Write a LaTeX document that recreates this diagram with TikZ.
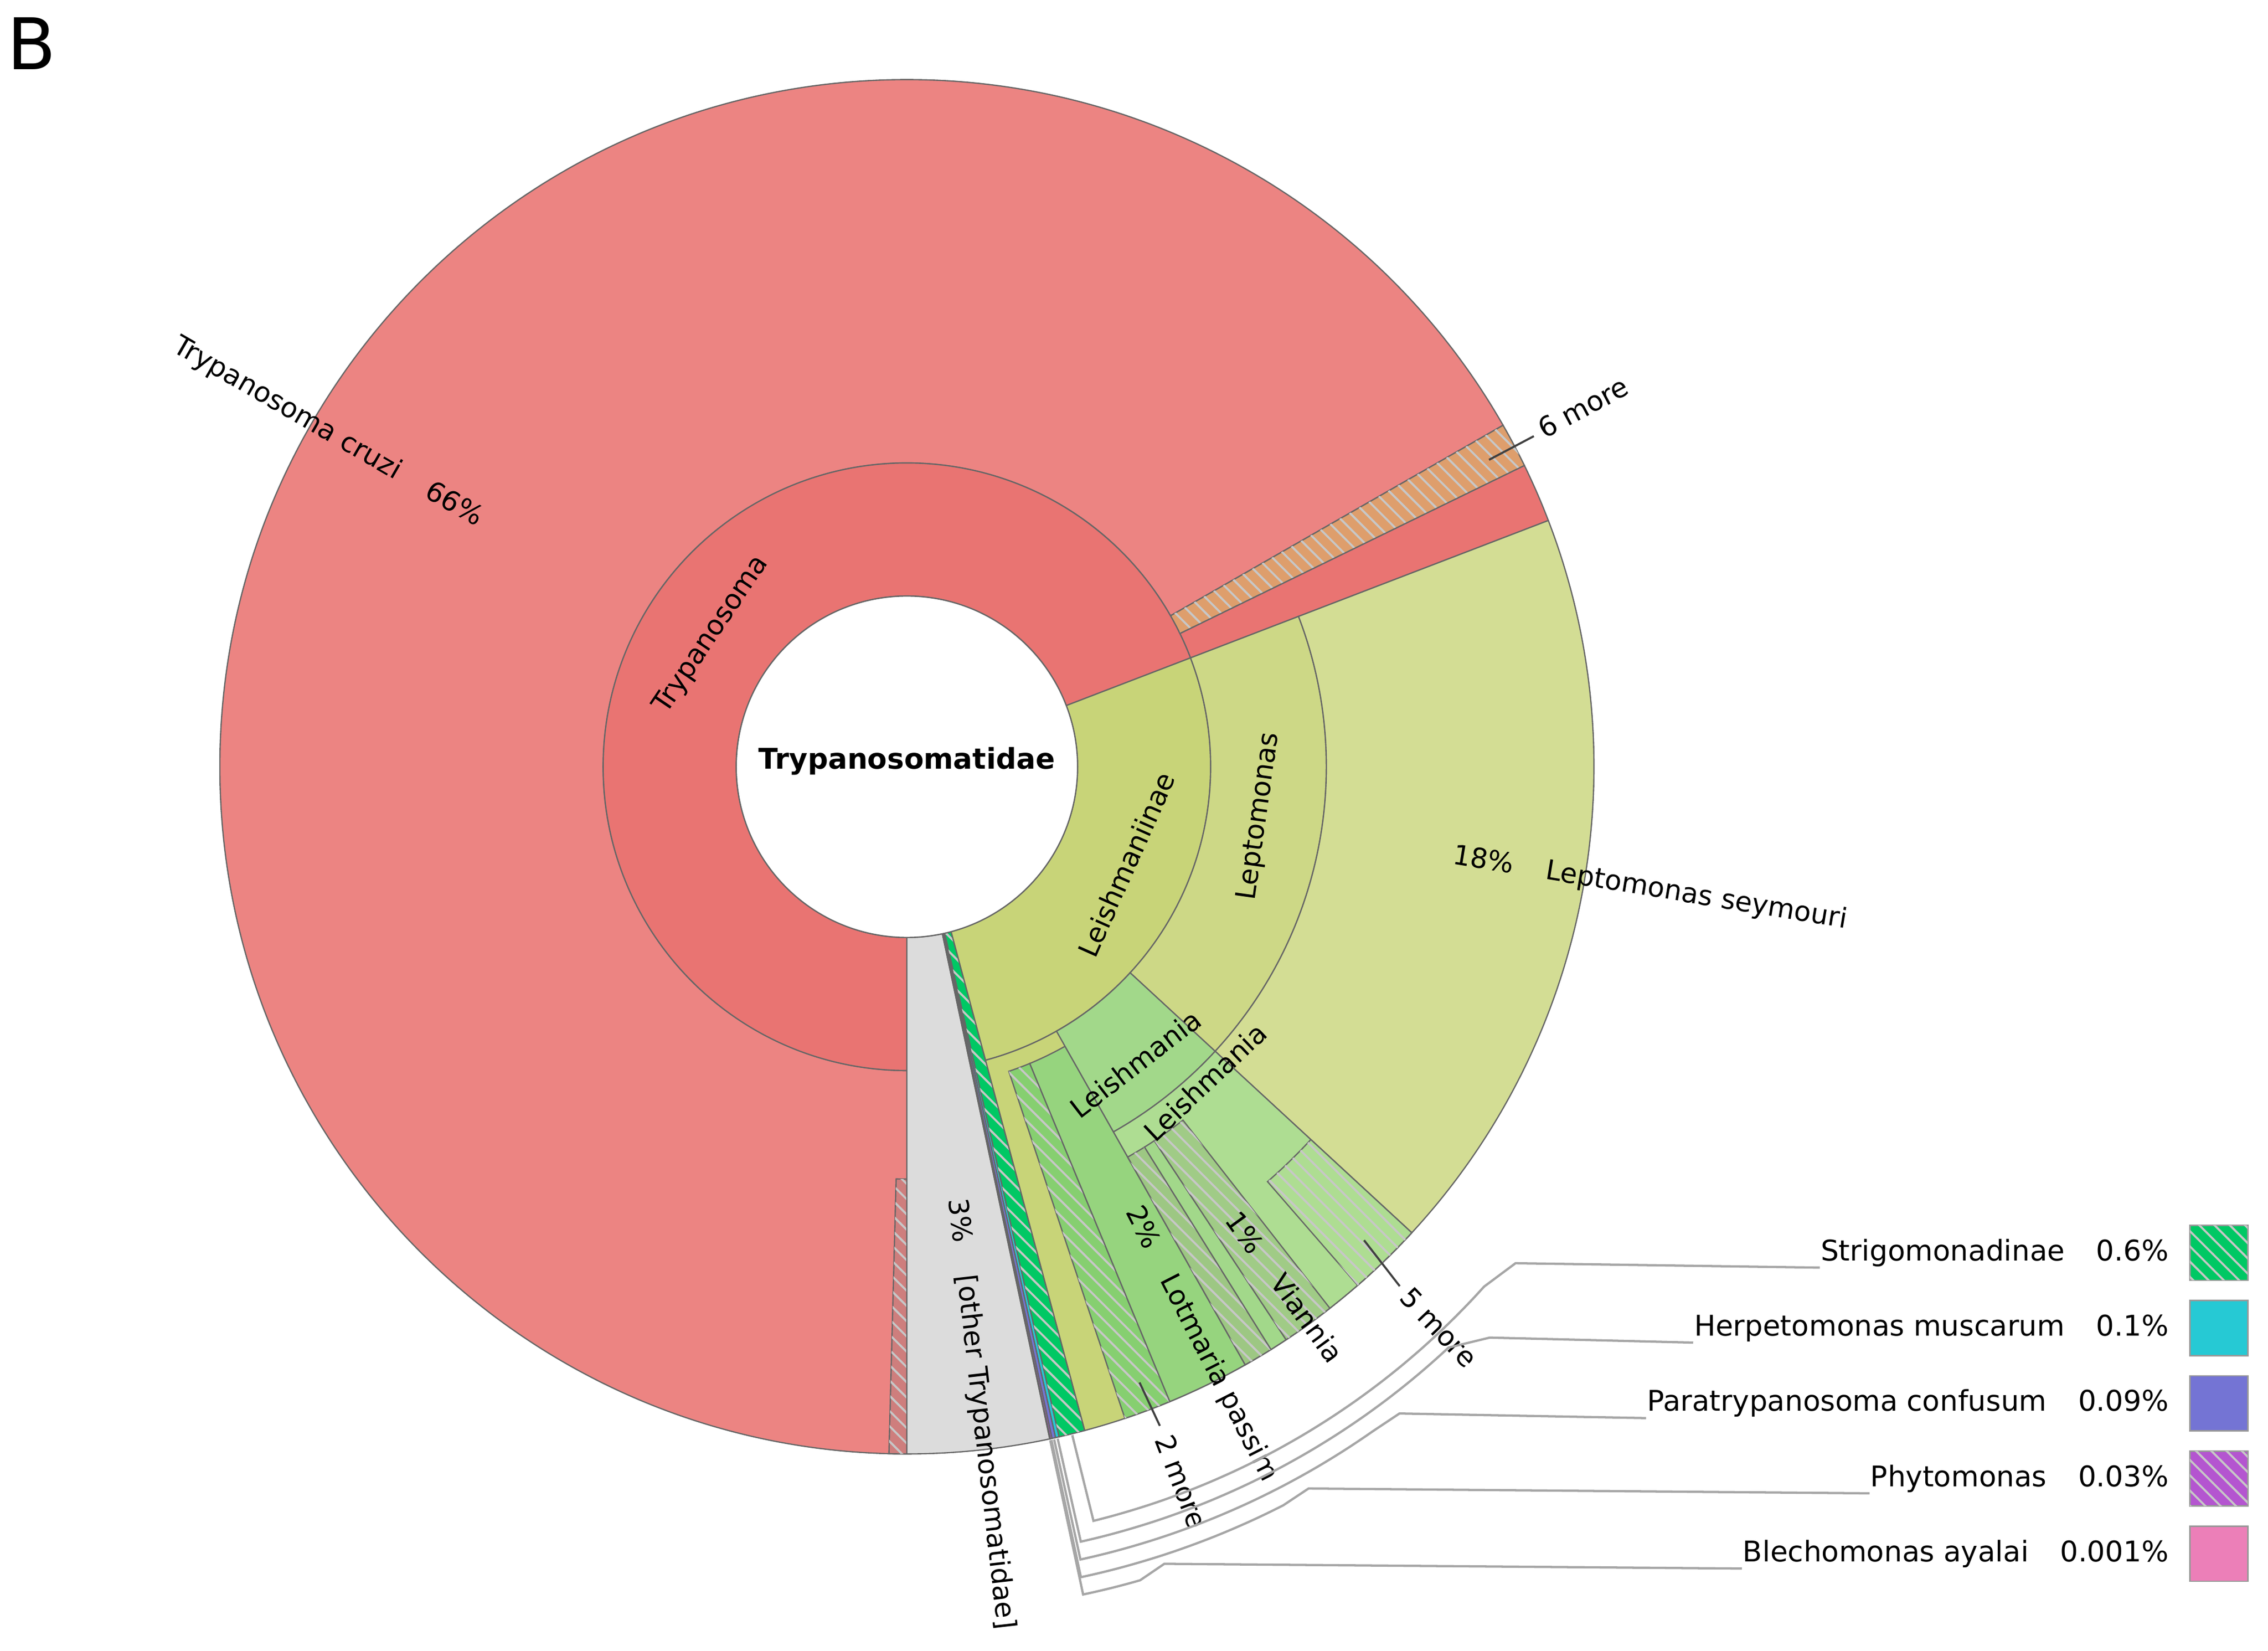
\documentclass[tikz,border=0pt]{standalone}
\usepackage{fontspec}
\setmainfont{DejaVu Sans}
\usetikzlibrary{patterns}
\definecolor{cruzi}{HTML}{EC8482}
\definecolor{tryring}{HTML}{E97472}
\definecolor{greyo}{HTML}{DCDCDC}
\definecolor{olive}{HTML}{C8D478}
\definecolor{lepto}{HTML}{CDD886}
\definecolor{seym}{HTML}{D3DD94}
\definecolor{orangeh}{HTML}{DE9E6C}
\definecolor{gdark}{HTML}{86CF70}
\definecolor{gmed}{HTML}{96D47E}
\definecolor{ggen}{HTML}{A2D88A}
\definecolor{glight}{HTML}{AEDD92}
\definecolor{strig}{HTML}{00C864}
\definecolor{herp}{HTML}{26C9D4}
\definecolor{para}{HTML}{7474D4}
\definecolor{phyto}{HTML}{B455D0}
\definecolor{blech}{HTML}{EC7FB8}
\tikzset{
  wb/.style={draw=black!60,line width=0.25pt},
  hatchy/.style={postaction={pattern=north west lines,pattern color=black!22}},
  lbl/.style={font=\fontsize{5.4}{6}\selectfont,inner sep=0pt},
  leader/.style={draw=black!35,line width=0.45pt},
  lead/.style={draw=black!75,line width=0.4pt},
}
\newcommand\wdg[5]{\path[wb,#5] (#1:#3) arc[start angle=#1,end angle=#2,radius=#3] -- (#2:#4) arc[start angle=#2,end angle=#1,radius=#4] -- cycle;}
\begin{document}
\begin{tikzpicture}[x=0.01cm,y=0.01cm]
\useasboundingbox (0,0) rectangle (1568,-1141);
\node[font=\fontsize{14}{14}\selectfont,anchor=center] (B) at (22,-30) {B};
\begin{scope}[shift={(627,-530)}]
% Trypanosoma branch
\wdg{29.8}{270}{210}{475}{fill=cruzi}
\wdg{268.5}{270}{285}{475}{fill=cruzi!85!black!90,hatchy}
\wdg{26}{29.8}{210}{475}{fill=orangeh,hatchy}
\wdg{21}{26}{210}{475}{fill=tryring}
\wdg{21}{270}{118}{210}{fill=tryring}
% other
\wdg{-90}{-78}{118}{475}{fill=greyo}
\wdg{-78}{-77.95}{118}{475}{fill=blech}
\wdg{-77.95}{-77.8}{118}{475}{fill=phyto}
\wdg{-77.8}{-77.5}{118}{475}{fill=para}
\wdg{-77.5}{-77.2}{118}{475}{fill=herp}
\wdg{-77.2}{-75}{118}{475}{fill=strig,hatchy}
% Leishmaniinae
\wdg{-75}{21}{118}{210}{fill=olive}
\wdg{-75}{-42.7}{210}{475}{fill=olive}
\wdg{-42.7}{21}{210}{290}{fill=lepto}
\wdg{-42.7}{21}{290}{475}{fill=seym}
\wdg{-71.5}{-67.5}{222}{475}{fill=gdark,hatchy}
\wdg{-67.5}{-60.5}{222}{475}{fill=gmed}
\wdg{-60.5}{-42.7}{210}{290}{fill=ggen}
\wdg{-60.5}{-42.7}{290}{475}{fill=glight}
\wdg{-60.5}{-58}{310}{475}{fill=glight!90!black,hatchy}
\wdg{-58}{-56.5}{310}{475}{fill=ggen}
\wdg{-56.5}{-52}{310}{475}{fill=glight!92!black,hatchy}
\wdg{-49}{-42.7}{380}{475}{fill=glight,hatchy}
\draw[wb,fill=white] (0,0) circle[radius=118];
% centre and ring labels
\node[font=\fontsize{5.6}{6}\selectfont\bfseries] (root) at (0,4) {Trypanosomatidae};
\node[lbl,rotate=56] (tryp) at (146:163) {Trypanosoma};
\node[lbl,rotate=66] (leishnae) at (-24:166) {Leishmaniinae};
\node[lbl,rotate=82] (leptom) at (-8:246) {Leptomonas};
\node[lbl,rotate=37.6] (leish1) at (-52.4:259) {Leishmania};
\node[lbl,rotate=43.4] (leish2) at (-46.6:300) {Leishmania};
% radial labels
\node[lbl,anchor=east,rotate=-30] (cruzilbl) at (150:340) {Trypanosoma cruzi\hspace{1.2em}66\%};
\node[lbl,anchor=west,rotate=-9.3] (seylbl) at (-9.3:382) {18\%\hspace{1.2em}Leptomonas seymouri};
\node[lbl,anchor=west,rotate=-83.5] (othlbl) at (-83.5:300) {3\%\hspace{1.2em}[other Trypanosomatidae]};
\node[lbl,anchor=west,rotate=-63] (lotlbl) at (-63:342) {2\%\hspace{1.2em}Lotmaria passim};
\node[lbl,anchor=west,rotate=-54] (vianlbl) at (-54:382) {1\%\hspace{1.2em}Viannia};
\coordinate (m6a) at (27.8:455); \coordinate (m6b) at (27.8:490);
\draw[lead] (m6a) -- (m6b);
\node[lbl,anchor=west,rotate=28] (more6) at (28:495) {6 more};
\coordinate (m5a) at (-46:455); \coordinate (m5b) at (-46.5:495);
\draw[lead] (m5a) -- (m5b);
\node[lbl,anchor=west,rotate=-46.5] (more5) at (-46.5:500) {5 more};
\coordinate (m2a) at (-69.3:455); \coordinate (m2b) at (-69:488);
\draw[lead] (m2a) -- (m2b);
\node[lbl,anchor=west,rotate=-69] (more2) at (-69:495) {2 more};
\coordinate (P1) at (-39.2:543); \coordinate (P2) at (-44.4:564);
\coordinate (P3) at (-52.7:562); \coordinate (P4) at (-60.9:571);
\coordinate (P5) at (-72.1:579);
\end{scope}
% legend
\foreach \i/\y/\nm/\pc/\col/\h in {1/866/Strigomonadinae/0.6\%/strig/1,2/918/Herpetomonas muscarum/0.1\%/herp/0,3/970/Paratrypanosoma confusum/0.09\%/para/0,4/1022/Phytomonas/0.03\%/phyto/1,5/1074/Blechomonas ayalai/0.001\%/blech/0}{
  \node[lbl,anchor=east,font=\fontsize{5.6}{6}\selectfont] (t\i) at (1500,-\y) {\nm\hspace{1.1em}\pc};
  \ifnum\h=1
    \path[draw=black!40,line width=0.3pt,fill=\col,hatchy] (1514,-\y+19) rectangle (1554,-\y-19);
  \else
    \path[draw=black!40,line width=0.3pt,fill=\col] (1514,-\y+19) rectangle (1554,-\y-19);
  \fi
  \node[inner sep=0pt,minimum size=0pt] (sq\i) at (1534,-\y) {};
}
\begin{scope}[shift={(627,-530)}]
\draw[leader] (t1.south west) -- (P1) -- (-42:537) arc[start angle=-42,end angle=-76.1,radius=537] -- (-76.1:476);
\draw[leader] (t2.south west) -- (P2) -- (-47:549) arc[start angle=-47,end angle=-77.35,radius=549] -- (-77.35:476);
\draw[leader] (t3.south west) -- (P3) -- (-55:561) arc[start angle=-55,end angle=-77.65,radius=561] -- (-77.65:476);
\draw[leader] (t4.south west) -- (P4) -- (-63:573) arc[start angle=-63,end angle=-77.88,radius=573] -- (-77.88:476);
\draw[leader] (t5.south west) -- (P5) -- (-74:585) arc[start angle=-74,end angle=-77.98,radius=585] -- (-77.98:476);
\end{scope}
\end{tikzpicture}
\end{document}
